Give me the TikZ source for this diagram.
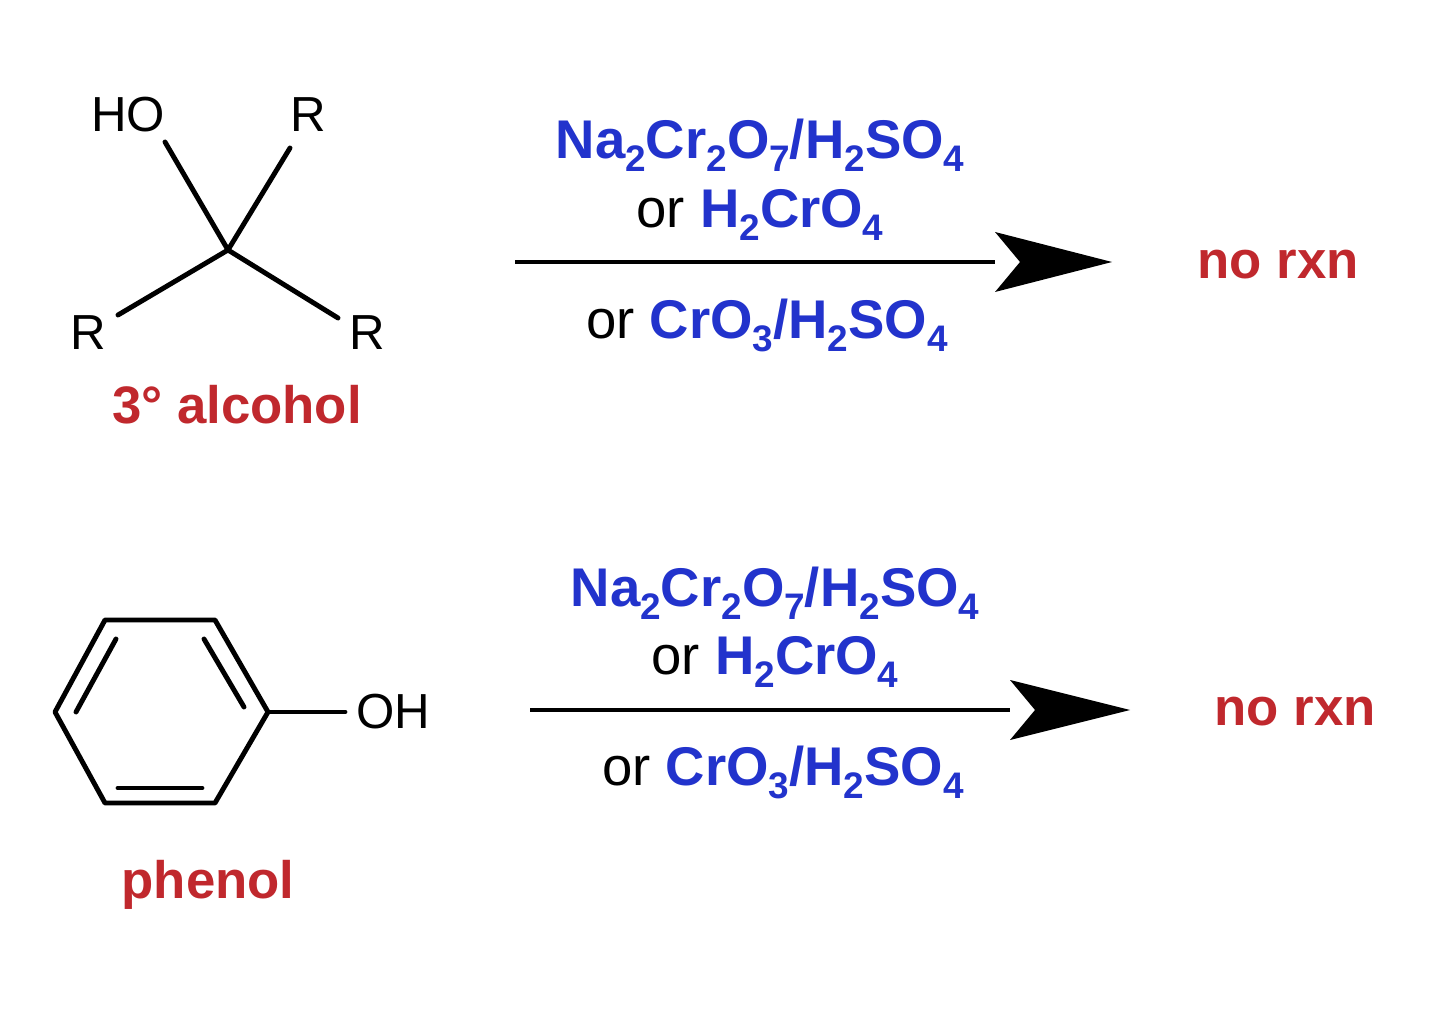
\documentclass[tikz,border=0pt]{standalone}
\usepackage{fontspec}
\setmainfont{Liberation Sans}
\definecolor{rblue}{HTML}{2233CC}
\definecolor{rred}{HTML}{C0282D}
\newcommand{\chsub}[1]{\raisebox{-0.45ex}{\fontsize{10.5}{12}\selectfont #1}}
\begin{document}
\begin{tikzpicture}[x=0.01cm,y=-0.01cm,
  bond/.style={line width=1.4pt,line cap=round},
  atom/.style={font=\fontsize{14}{16}\selectfont,inner sep=0pt},
  reag/.style={font=\bfseries\fontsize{15.5}{18}\selectfont,text=rblue,inner sep=0pt},
  cmpd/.style={font=\bfseries\fontsize{15}{18}\selectfont,text=rred,inner sep=0pt},
  rxn/.style={line width=1.4pt}]
\useasboundingbox (0,0) rectangle (1440,1025);
% tertiary alcohol
\coordinate (C) at (228,250);
\node[atom] (HO) at (128,115) {HO};
\node[atom] (R1) at (308,115) {R};
\node[atom] (R2) at (88,333) {R};
\node[atom] (R3) at (367,333) {R};
\draw[bond] (165,142) -- (C);
\draw[bond] (290,148) -- (C);
\draw[bond] (118,315) -- (C);
\draw[bond] (338,318) -- (C);
\node[cmpd] (alc) at (237,405) {3° alcohol};
% arrow 1
\coordinate (a1s) at (515,262);
\coordinate (a1e) at (995,262);
\draw[rxn] (a1s) -- (a1e);
\fill (995,232) -- (1112,262) -- (995,292) -- (1020,262) -- cycle;
\node[reag] (r1a) at (760,145) {Na\chsub{2}Cr\chsub{2}O\chsub{7}/H\chsub{2}SO\chsub{4}};
\node[reag] (r1b) at (760,215) {\textcolor{black}{\mdseries or} H\chsub{2}CrO\chsub{4}};
\node[reag] (r1c) at (767,325) {\textcolor{black}{\mdseries or} CrO\chsub{3}/H\chsub{2}SO\chsub{4}};
\node[cmpd] (nr1) at (1278,265) {no rxn};
% phenol
\coordinate (p1) at (55,712);
\coordinate (p2) at (105,620);
\coordinate (p3) at (215,620);
\coordinate (p4) at (268,712);
\coordinate (p5) at (215,803);
\coordinate (p6) at (105,803);
\draw[bond,line join=round] (p1)--(p2)--(p3)--(p4)--(p5)--(p6)--cycle;
\draw[bond] (76,712) -- (116,639);
\draw[bond] (204,639) -- (244,707);
\draw[bond] (118,788) -- (202,788);
\node[atom] (OH) at (393,712) {OH};
\draw[bond] (p4) -- (345,712);
\node[cmpd] (ph) at (208,885) {phenol};
% arrow 2
\coordinate (a2s) at (530,710);
\coordinate (a2e) at (1010,710);
\draw[rxn] (a2s) -- (a2e);
\fill (1010,680) -- (1130,710) -- (1010,740) -- (1035,710) -- cycle;
\node[reag] (r2a) at (775,593) {Na\chsub{2}Cr\chsub{2}O\chsub{7}/H\chsub{2}SO\chsub{4}};
\node[reag] (r2b) at (775,662) {\textcolor{black}{\mdseries or} H\chsub{2}CrO\chsub{4}};
\node[reag] (r2c) at (783,772) {\textcolor{black}{\mdseries or} CrO\chsub{3}/H\chsub{2}SO\chsub{4}};
\node[cmpd] (nr2) at (1295,712) {no rxn};
\end{tikzpicture}
\end{document}
